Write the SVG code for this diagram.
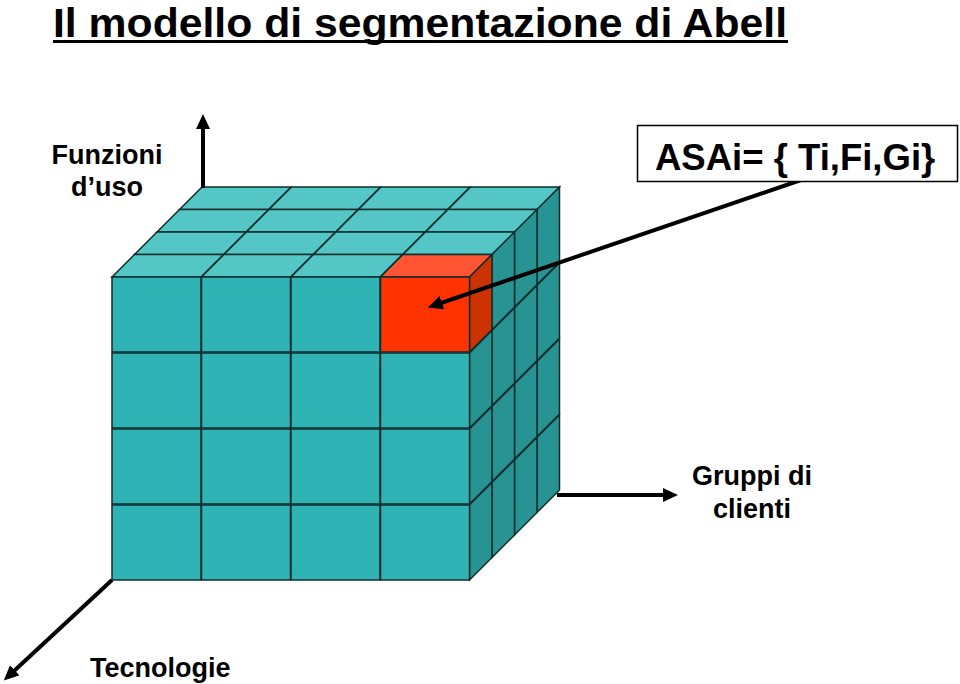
<svg xmlns="http://www.w3.org/2000/svg" width="960" height="684" viewBox="0 0 960 684">
<defs>
<marker id="ah" viewBox="0 -7 15 14" markerUnits="userSpaceOnUse" markerWidth="15" markerHeight="14" refX="1" refY="0" orient="auto">
<path d="M0,-7 L15,0 L0,7 z" fill="#000"/>
</marker>
<style>
.t{font-family:"Liberation Sans",Arial,sans-serif;font-weight:bold;fill:#000}
.fr{fill:#30B3B5;stroke:#0E2E2E;stroke-width:1.5}
.tp{fill:#55C6C6;stroke:#0E2E2E;stroke-width:1.5}
.rt{fill:#279393;stroke:#0E2E2E;stroke-width:1.5}
.rf{fill:#FF3300;stroke:#0E2E2E;stroke-width:1.5}
.rtp{fill:#FF5533;stroke:#0E2E2E;stroke-width:1.5}
.rrt{fill:#CC3300;stroke:#0E2E2E;stroke-width:1.5}
.ax{stroke:#000;stroke-width:4;fill:none;marker-end:url(#ah)}
</style>
</defs>
<rect width="960" height="684" fill="#fff"/>
<g id="title">
<text class="t" x="53" y="36.5" font-size="40" textLength="734" lengthAdjust="spacingAndGlyphs">Il modello di segmentazione di Abell</text>
<rect x="53" y="40" width="735" height="3" fill="#000"/>
</g>
<g id="cube">
<g id="top-faces">
<polygon class="tp" points="179.5,209.5 268.5,209.5 291,187 202,187"/>
<polygon class="tp" points="269,209.5 358,209.5 380.5,187 291.5,187"/>
<polygon class="tp" points="358.5,209.5 447.5,209.5 470,187 381,187"/>
<polygon class="tp" points="448,209.5 537,209.5 559.5,187 470.5,187"/>
<polygon class="tp" points="157,232 246,232 268.5,209.5 179.5,209.5"/>
<polygon class="tp" points="246.5,232 335.5,232 358,209.5 269,209.5"/>
<polygon class="tp" points="336,232 425,232 447.5,209.5 358.5,209.5"/>
<polygon class="tp" points="425.5,232 514.5,232 537,209.5 448,209.5"/>
<polygon class="tp" points="134.5,254.5 223.5,254.5 246,232 157,232"/>
<polygon class="tp" points="224,254.5 313,254.5 335.5,232 246.5,232"/>
<polygon class="tp" points="313.5,254.5 402.5,254.5 425,232 336,232"/>
<polygon class="tp" points="403,254.5 492,254.5 514.5,232 425.5,232"/>
<polygon class="tp" points="112,277 201,277 223.5,254.5 134.5,254.5"/>
<polygon class="tp" points="201.5,277 290.5,277 313,254.5 224,254.5"/>
<polygon class="tp" points="291,277 380,277 402.5,254.5 313.5,254.5"/>
</g>
<g id="right-faces">
<polygon class="rt" points="537,209.5 559.5,187 559.5,262 537,284.5"/>
<polygon class="rt" points="514.5,232 537,209.5 537,284.5 514.5,307"/>
<polygon class="rt" points="492,254.5 514.5,232 514.5,307 492,329.5"/>
<polygon class="rt" points="537,285.5 559.5,263 559.5,338 537,360.5"/>
<polygon class="rt" points="514.5,308 537,285.5 537,360.5 514.5,383"/>
<polygon class="rt" points="492,330.5 514.5,308 514.5,383 492,405.5"/>
<polygon class="rt" points="469.5,353 492,330.5 492,405.5 469.5,428"/>
<polygon class="rt" points="537,361.5 559.5,339 559.5,414 537,436.5"/>
<polygon class="rt" points="514.5,384 537,361.5 537,436.5 514.5,459"/>
<polygon class="rt" points="492,406.5 514.5,384 514.5,459 492,481.5"/>
<polygon class="rt" points="469.5,429 492,406.5 492,481.5 469.5,504"/>
<polygon class="rt" points="537,437.5 559.5,415 559.5,490 537,512.5"/>
<polygon class="rt" points="514.5,460 537,437.5 537,512.5 514.5,535"/>
<polygon class="rt" points="492,482.5 514.5,460 514.5,535 492,557.5"/>
<polygon class="rt" points="469.5,505 492,482.5 492,557.5 469.5,580"/>
</g>
<g id="front-faces">
<rect class="fr" x="112" y="277" width="89" height="75"/>
<rect class="fr" x="201.5" y="277" width="89" height="75"/>
<rect class="fr" x="291" y="277" width="89" height="75"/>
<rect class="fr" x="112" y="353" width="89" height="75"/>
<rect class="fr" x="201.5" y="353" width="89" height="75"/>
<rect class="fr" x="291" y="353" width="89" height="75"/>
<rect class="fr" x="380.5" y="353" width="89" height="75"/>
<rect class="fr" x="112" y="429" width="89" height="75"/>
<rect class="fr" x="201.5" y="429" width="89" height="75"/>
<rect class="fr" x="291" y="429" width="89" height="75"/>
<rect class="fr" x="380.5" y="429" width="89" height="75"/>
<rect class="fr" x="112" y="505" width="89" height="75"/>
<rect class="fr" x="201.5" y="505" width="89" height="75"/>
<rect class="fr" x="291" y="505" width="89" height="75"/>
<rect class="fr" x="380.5" y="505" width="89" height="75"/>
</g>
<g id="red-cube">
<polygon class="rtp" points="380.5,277 469.5,277 492,254.5 403,254.5"/>
<polygon class="rrt" points="469.5,277 492,254.5 492,329.5 469.5,352"/>
<rect class="rf" x="380.5" y="277" width="89" height="75"/>
</g>
</g>
<g id="connectors">
<line class="ax" x1="203" y1="188" x2="203" y2="128"/>
<line class="ax" x1="112" y1="580" x2="14" y2="671"/>
<line class="ax" x1="557" y1="495" x2="664" y2="495"/>
<line class="ax" x1="801" y1="180" x2="441" y2="303"/>
</g>
<g id="label-funzioni">
<text class="t" x="107" y="164" font-size="27" text-anchor="middle">Funzioni</text>
<text class="t" x="107" y="196" font-size="27" text-anchor="middle">d’uso</text>
</g>
<g id="label-gruppi">
<text class="t" x="752" y="485" font-size="27" text-anchor="middle">Gruppi di</text>
<text class="t" x="752" y="518" font-size="27" text-anchor="middle">clienti</text>
</g>
<g id="label-tecnologie">
<text class="t" x="90" y="677" font-size="27">Tecnologie</text>
</g>
<g id="asai-box">
<rect x="637.5" y="125.5" width="320" height="56" fill="#fff" stroke="#000" stroke-width="1.5"/>
<text class="t" x="655" y="170" font-size="36.5">ASAi= { Ti,Fi,Gi}</text>
</g>
</svg>
